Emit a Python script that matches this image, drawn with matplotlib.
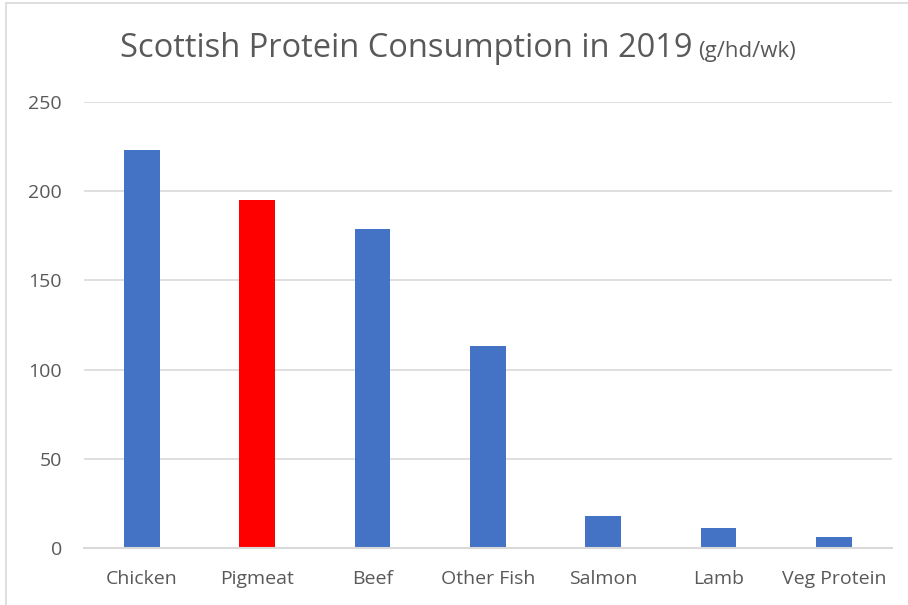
import numpy as np
import matplotlib.pyplot as plt
from matplotlib.patches import Rectangle

# ---------------------------- data ----------------------------
categories = ['Chicken', 'Pigmeat', 'Beef', 'Other Fish', 'Salmon', 'Lamb', 'Veg Protein']
consumption = [223, 195, 179, 113, 18, 11, 6]          # g per head per week
bar_colours = ['#4472C4', '#FF0000', '#4472C4', '#4472C4', '#4472C4', '#4472C4', '#4472C4']
y_ticks = [0, 50, 100, 150, 200, 250]

txt_grey = '#595959'
grid_grey = '#D9D9D9'

plt.rcParams['font.family'] = ['Open Sans', 'DejaVu Sans']

W, H = 908, 605
fig = plt.figure(figsize=(W / 100, H / 100), dpi=100)
ax = fig.add_axes([0.0925, 0.0942, 0.8895, 0.7372])

x = np.arange(len(categories))
ax.bar(x, consumption, width=0.31, color=bar_colours, zorder=3)

ax.set_xlim(-0.5, len(categories) - 0.5)
ax.set_ylim(0, 250)
ax.set_yticks(y_ticks)
ax.set_xticks(x)
ax.set_xticklabels(categories, fontsize=14.5)
ax.yaxis.grid(True, color=grid_grey, linewidth=1.2, zorder=0)

for s in ['top', 'right', 'left']:
    ax.spines[s].set_visible(False)
ax.spines['bottom'].set_color(grid_grey)
ax.spines['bottom'].set_linewidth(1.5)
ax.spines['bottom'].set_zorder(4)

ax.tick_params(axis='both', length=0, labelcolor=txt_grey, labelsize=14)
ax.tick_params(axis='x', pad=16)
ax.tick_params(axis='y', pad=16)

# title in two sizes, sharing one baseline
base_y = 1 - 57 / H
t1 = fig.text(120 / W, base_y, 'Scottish Protein Consumption in 2019',
              fontsize=23.5, color=txt_grey, ha='left', va='baseline')
fig.canvas.draw()
x_end = t1.get_window_extent().x1
fig.text((x_end + 6) / W, base_y, '(g/hd/wk)', fontsize=16,
         color=txt_grey, ha='left', va='baseline')

# chart area outline
fig.patches.append(Rectangle((6 / W, -0.1), 1.2, 1.1 - 3 / H, transform=fig.transFigure,
                             fill=False, edgecolor='#D9D9D9', linewidth=1.2))

fig.savefig('out.png', dpi=100)
